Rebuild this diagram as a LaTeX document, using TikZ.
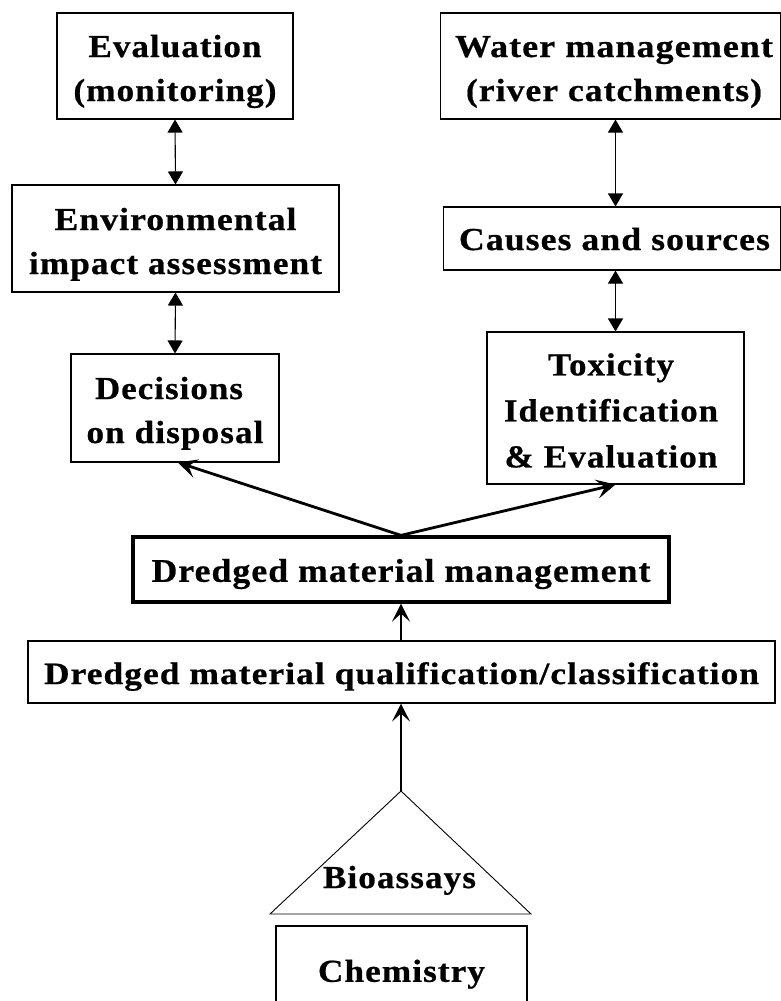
\documentclass[tikz,border=0pt]{standalone}
\usepackage{fontspec}
\usepackage{graphicx}
\usetikzlibrary{arrows.meta,calc}
\newfontfamily\lbs{Liberation Serif}[LetterSpace=3,FakeBold=0.6]
\newcommand\fitw[2]{\resizebox{#1}{\height}{#2}}
\newcommand\mytab[2]{\raisebox{-#1}[\height][\depth]{\begin{tabular}{@{}c@{}}#2\end{tabular}}}
\begin{document}
\begin{tikzpicture}[x=1pt,y=-1pt,
  box/.style={draw, line width=1.1pt, inner sep=0pt, anchor=center,
    font=\lbs\bfseries\fontsize{32}{44}\selectfont},
  thickbox/.style={box, line width=3.3pt},
  bi/.style={line width=1.1pt, {Triangle[length=13pt,width=15pt]}-{Triangle[length=13pt,width=15pt]}},
  varr/.style={line width=2.8pt, -{Stealth[length=19pt,width=19pt,inset=8pt]}},
  uparr/.style={line width=2.3pt, -{Stealth[length=18pt,width=18pt,inset=8pt]}},
  txt/.style={inner sep=0pt, font=\lbs\bfseries\fontsize{32}{44}\selectfont}]
\useasboundingbox (0,0) rectangle (781,1001);
% left column
\node[box, minimum width=236pt, minimum height=106pt] (eval) at (175,66)
  {\mytab{4.2pt}{\fitw{173pt}{Evaluation}\\ \fitw{203pt}{(monitoring)}}};
\node[box, minimum width=327pt, minimum height=107pt] (eia) at (175.5,238.5)
  {\mytab{4.7pt}{\fitw{242pt}{Environmental}\\ \fitw{293pt}{impact assessment}}};
\node[box, minimum width=208pt, minimum height=108pt] (dec) at (175,408)
  {\mytab{4.2pt}{\fitw{148pt}{Decisions}\hspace*{12pt}\\ \fitw{177pt}{on disposal}}};
% right column
\node[box, minimum width=340pt, minimum height=106pt] (water) at (610.5,66)
  {\hspace*{7pt}\mytab{4.2pt}{\fitw{318pt}{Water management}\\ \fitw{296pt}{(river catchments)}}};
\node[box, minimum width=337pt, minimum height=63pt] (causes) at (612,238.5)
  {\hspace*{5pt}\mytab{2.7pt}{\fitw{311pt}{Causes and sources}}};
\node[box, minimum width=257pt, minimum height=152pt, font=\lbs\bfseries\fontsize{32}{46}\selectfont] (tox) at (615.5,408)
  {\mytab{4.2pt}{\fitw{126pt}{Toxicity}\\ \fitw{214pt}{Identification}\\ \fitw{213pt}{\&\ Evaluation}}\hspace*{9pt}};
% centre column
\node[thickbox, minimum width=536pt, minimum height=65pt, font=\lbs\bfseries\fontsize{33}{44}\selectfont] (mgmt) at (401,569.5)
  {\mytab{3.5pt}{\fitw{499pt}{Dredged material management}}};
\node[box, minimum width=747pt, minimum height=62pt, font=\lbs\bfseries\fontsize{31}{44}\selectfont] (qual) at (401.5,672)
  {\mytab{3.2pt}{\fitw{715pt}{Dredged material qualification/classification}}};
\node[box, minimum width=251pt, minimum height=94pt] (chem) at (401.5,973)
  {\mytab{0pt}{\fitw{167pt}{Chemistry}}};
% triangle
\coordinate (apex) at (401,791);
\coordinate (triL) at (270,914);
\coordinate (triR) at (531,914);
\draw[line width=0.9pt] (apex) -- (triL) -- (triR) -- cycle;
\node[txt, anchor=base] (bio) at (399.5,888) {\fitw{153pt}{Bioassays}};
% connectors
\draw[bi] (eval.south) -- (eia.north);
\draw[bi] (eia.south) -- (dec.north);
\draw[bi] (tox.north |- water.south) -- (tox.north |- causes.north);
\draw[bi] (tox.north |- causes.south) -- (tox.north);
\draw[varr] (mgmt.north) -- ($(dec.south)+(3,0)$);
\draw[varr] (mgmt.north) -- (tox.south);
\draw[uparr] (mgmt.south |- qual.north) -- (mgmt.south);
\draw[uparr] (apex) -- (apex |- qual.south);
\end{tikzpicture}
\end{document}
